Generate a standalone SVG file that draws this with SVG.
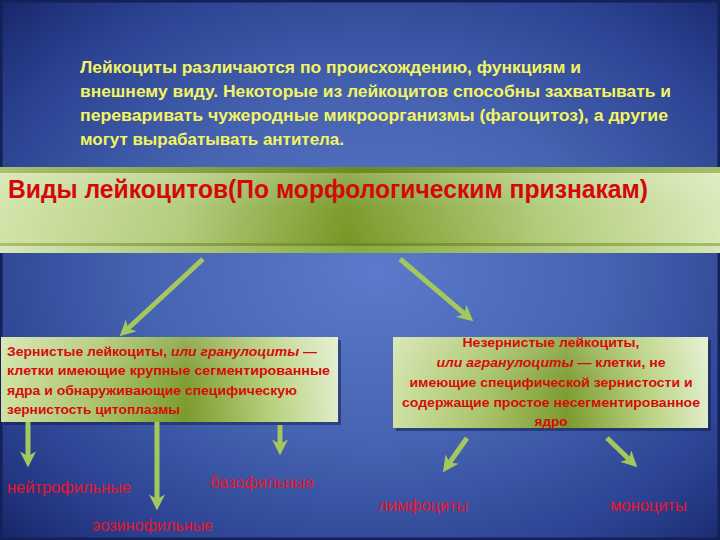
<svg xmlns="http://www.w3.org/2000/svg" width="720" height="540" viewBox="0 0 720 540">
<defs>
<radialGradient id="bg" cx="0.52" cy="0.5" r="0.72">
<stop offset="0" stop-color="#5b7acb"/>
<stop offset="0.45" stop-color="#4563b0"/>
<stop offset="0.8" stop-color="#2a4190"/>
<stop offset="1" stop-color="#18266a"/>
</radialGradient>
<linearGradient id="barG" x1="0" y1="0" x2="1" y2="0">
<stop offset="0" stop-color="#d2e3a8"/>
<stop offset="0.25" stop-color="#b2cc7c"/>
<stop offset="0.48" stop-color="#779826"/>
<stop offset="0.75" stop-color="#b0cb78"/>
<stop offset="1" stop-color="#d8e8b6"/>
</linearGradient>
<linearGradient id="barEdge" x1="0" y1="0" x2="1" y2="0">
<stop offset="0" stop-color="#a8c070"/>
<stop offset="0.5" stop-color="#6a8a22"/>
<stop offset="1" stop-color="#a4bf6c"/>
</linearGradient>
<linearGradient id="barLow" x1="0" y1="0" x2="1" y2="0">
<stop offset="0" stop-color="#d8e8b8"/>
<stop offset="0.5" stop-color="#8aaa3e"/>
<stop offset="1" stop-color="#d6e6b4"/>
</linearGradient>
<linearGradient id="boxG" x1="0" y1="0" x2="1" y2="0">
<stop offset="0" stop-color="#cfe1a4"/>
<stop offset="0.3" stop-color="#a6c266"/>
<stop offset="0.55" stop-color="#7a9a2c"/>
<stop offset="0.8" stop-color="#b6d07c"/>
<stop offset="1" stop-color="#e0edc8"/>
</linearGradient>
<linearGradient id="gloss" x1="0" y1="0" x2="0" y2="1">
<stop offset="0" stop-color="#ffffff" stop-opacity="0.22"/>
<stop offset="0.5" stop-color="#ffffff" stop-opacity="0.04"/>
<stop offset="1" stop-color="#ffffff" stop-opacity="0"/>
</linearGradient>
<marker id="ah" viewBox="0 0 14 14" refX="4" refY="7" markerWidth="16" markerHeight="16" markerUnits="userSpaceOnUse" orient="auto">
<path d="M0,0 L14,7 L0,14 L4,7 z" fill="#a3c85e"/>
</marker>
</defs>
<style>
.hdr{font-family:"Liberation Sans",Arial,sans-serif;font-weight:bold;font-size:16px;fill:#f4f462}
.ttl{font-family:"Liberation Sans",Arial,sans-serif;font-weight:bold;font-size:25px;fill:#d40808}
.bx{font-family:"Liberation Sans",Arial,sans-serif;font-weight:bold;font-size:13.5px;fill:#d80a0a}
.it{font-style:italic}
.lbl{font-family:"Liberation Sans",Arial,sans-serif;font-size:16px;fill:#e8142c}
.arr{stroke:#a3c85e;stroke-width:5;fill:none;marker-end:url(#ah)}
.shadow{fill:#0c1640;opacity:0.45}
</style>
<rect x="0" y="0" width="720" height="540" fill="url(#bg)"/>
<rect x="1" y="1" width="718" height="538" fill="none" stroke="#142058" stroke-width="3"/>

<g id="intro">
<text class="hdr" x="80" y="73" textLength="501" lengthAdjust="spacingAndGlyphs">Лейкоциты различаются по происхождению, функциям и</text>
<text class="hdr" x="80" y="97" textLength="591" lengthAdjust="spacingAndGlyphs">внешнему виду. Некоторые из лейкоцитов способны захватывать и</text>
<text class="hdr" x="80" y="121" textLength="588" lengthAdjust="spacingAndGlyphs">переваривать чужеродные микроорганизмы (фагоцитоз), а другие</text>
<text class="hdr" x="80" y="145" textLength="264" lengthAdjust="spacingAndGlyphs">могут вырабатывать антитела.</text>
</g>

<g id="title-bar">
<rect x="0" y="167" width="720" height="6" fill="url(#barEdge)"/>
<rect x="0" y="173" width="720" height="70" fill="url(#barG)"/>
<rect x="0" y="173" width="720" height="70" fill="url(#gloss)"/>
<rect x="0" y="243" width="720" height="3" fill="url(#barEdge)"/>
<rect x="0" y="246" width="720" height="7" fill="url(#barLow)"/>
<text class="ttl" x="8" y="198" textLength="640" lengthAdjust="spacingAndGlyphs">Виды лейкоцитов(По морфологическим признакам)</text>
</g>

<g id="granulocytes">
<rect class="shadow" x="4" y="340" width="337" height="85"/>
<rect x="1" y="337" width="337" height="85" fill="url(#boxG)"/>
<rect x="1" y="337" width="337" height="85" fill="url(#gloss)"/>
<text class="bx" x="7" y="356" textLength="310" lengthAdjust="spacingAndGlyphs">Зернистые лейкоциты, <tspan class="it">или гранулоциты</tspan> —</text>
<text class="bx" x="7" y="375" textLength="323" lengthAdjust="spacingAndGlyphs">клетки имеющие крупные сегментированные</text>
<text class="bx" x="7" y="395" textLength="290" lengthAdjust="spacingAndGlyphs">ядра и обнаруживающие специфическую</text>
<text class="bx" x="7" y="414" textLength="173" lengthAdjust="spacingAndGlyphs">зернистость цитоплазмы</text>
</g>

<g id="agranulocytes">
<rect class="shadow" x="396" y="340" width="315" height="91"/>
<rect x="393" y="337" width="315" height="91" fill="url(#boxG)"/>
<rect x="393" y="337" width="315" height="91" fill="url(#gloss)"/>
<text class="bx" x="551" y="347" text-anchor="middle" textLength="177" lengthAdjust="spacingAndGlyphs">Незернистые лейкоциты,</text>
<text class="bx" x="551" y="367" text-anchor="middle" textLength="229" lengthAdjust="spacingAndGlyphs"><tspan class="it">или агранулоциты</tspan> — клетки, не</text>
<text class="bx" x="551" y="387" text-anchor="middle" textLength="283" lengthAdjust="spacingAndGlyphs">имеющие специфической зернистости и</text>
<text class="bx" x="551" y="407" text-anchor="middle" textLength="298" lengthAdjust="spacingAndGlyphs">содержащие простое несегментированное</text>
<text class="bx" x="551" y="426" text-anchor="middle" textLength="33" lengthAdjust="spacingAndGlyphs">ядро</text>
</g>

<g id="neutrophils"><text class="lbl" x="7" y="493" textLength="124" lengthAdjust="spacingAndGlyphs">нейтрофильные</text></g>
<g id="eosinophils"><text class="lbl" x="92" y="531" textLength="121" lengthAdjust="spacingAndGlyphs">эозинофильные</text></g>
<g id="basophils"><text class="lbl" x="210" y="488" textLength="104" lengthAdjust="spacingAndGlyphs">базофильные</text></g>
<g id="lymphocytes"><text class="lbl" x="378" y="511" textLength="90" lengthAdjust="spacingAndGlyphs">лимфоциты</text></g>
<g id="monocytes"><text class="lbl" x="610" y="511" textLength="77" lengthAdjust="spacingAndGlyphs">моноциты</text></g>

<g id="connectors">
<line class="arr" x1="203" y1="259" x2="128" y2="328.5"/>
<line class="arr" x1="400" y1="259" x2="464.6" y2="313.9"/>
<line class="arr" x1="28" y1="422" x2="28" y2="456"/>
<line class="arr" x1="157" y1="422" x2="157" y2="499"/>
<line class="arr" x1="280" y1="425" x2="280" y2="444"/>
<line class="arr" x1="467" y1="438" x2="449.5" y2="462.8"/>
<line class="arr" x1="607" y1="438" x2="629" y2="459.2"/>
</g>
</svg>
